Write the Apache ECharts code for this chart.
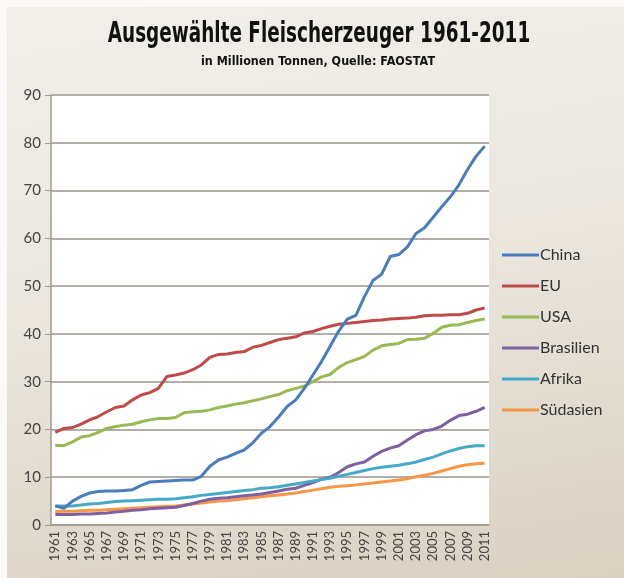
<!DOCTYPE html>
<html>
<head>
<meta charset="utf-8">
<script src="https://cdn.jsdelivr.net/npm/echarts@6/dist/echarts.min.js"></script>
<style>
  html, body { margin: 0; padding: 0; background: #fbfaf8; }
  #bg { position: absolute; left: 7px; top: 7px; width: 617px; height: 571px;
        background: linear-gradient(170deg, #f1efea 0%, #ebe7df 45%, #d9d0c1 100%); }
  #chart { position: absolute; left: 0; top: 0; width: 624px; height: 578px; }
</style>
</head>
<body>
<div id="bg"></div>
<div id="chart"></div>
<script>
// years 1961..2011
const years = [];
for (let y = 1961; y <= 2011; y++) years.push(String(y));

const china = [4.0, 3.5, 5.0, 6.0, 6.7, 7.0, 7.1, 7.1, 7.2, 7.4,
  8.3, 9.0, 9.1, 9.2, 9.3, 9.4, 9.4, 10.2, 12.3, 13.6,
  14.2, 15.0, 15.7, 17.2, 19.2, 20.6, 22.6, 24.8, 26.2, 28.6,
  31.4, 34.2, 37.4, 40.6, 43.1, 43.9, 47.8, 51.2, 52.5, 56.2,
  56.6, 58.2, 61.0, 62.2, 64.4, 66.6, 68.7, 71.2, 74.4, 77.2,
  79.3];
const eu = [19.4, 20.2, 20.4, 21.1, 22.0, 22.7, 23.7, 24.6, 24.9, 26.2,
  27.2, 27.7, 28.6, 31.1, 31.4, 31.8, 32.5, 33.5, 35.1, 35.7,
  35.8, 36.1, 36.3, 37.2, 37.6, 38.2, 38.8, 39.1, 39.4, 40.2,
  40.5, 41.1, 41.6, 42.0, 42.2, 42.4, 42.6, 42.8, 42.9, 43.1,
  43.2, 43.3, 43.5, 43.8, 43.9, 43.9, 44.0, 44.0, 44.3, 45.0,
  45.4];
const usa = [16.7, 16.6, 17.4, 18.4, 18.7, 19.4, 20.2, 20.6, 20.9, 21.1,
  21.6, 22.0, 22.3, 22.3, 22.5, 23.5, 23.7, 23.8, 24.1, 24.6,
  24.9, 25.3, 25.6, 26.0, 26.4, 26.9, 27.3, 28.1, 28.6, 29.1,
  30.0, 31.0, 31.5, 33.0, 34.0, 34.6, 35.3, 36.6, 37.5, 37.8,
  38.0, 38.8, 38.9, 39.1, 40.1, 41.4, 41.8, 41.9, 42.4, 42.8,
  43.1];
const brasilien = [2.2, 2.2, 2.2, 2.3, 2.3, 2.4, 2.5, 2.7, 2.9, 3.1,
  3.2, 3.4, 3.5, 3.6, 3.7, 4.1, 4.5, 5.0, 5.4, 5.6,
  5.7, 5.9, 6.1, 6.3, 6.5, 6.8, 7.1, 7.5, 7.7, 8.3,
  8.9, 9.6, 10.0, 11.0, 12.2, 12.8, 13.2, 14.4, 15.4, 16.1,
  16.6, 17.8, 18.9, 19.7, 20.0, 20.7, 21.9, 22.9, 23.2, 23.8,
  24.6];
const afrika = [4.0, 4.0, 4.0, 4.2, 4.4, 4.5, 4.7, 4.9, 5.0, 5.1,
  5.2, 5.3, 5.4, 5.4, 5.5, 5.7, 5.9, 6.2, 6.4, 6.6,
  6.8, 7.0, 7.2, 7.4, 7.7, 7.8, 8.0, 8.3, 8.6, 8.9,
  9.2, 9.5, 9.8, 10.2, 10.6, 11.0, 11.4, 11.8, 12.1, 12.3,
  12.5, 12.8, 13.2, 13.7, 14.2, 14.9, 15.5, 16.0, 16.4, 16.6,
  16.6];
const suedasien = [2.8, 2.9, 2.9, 3.0, 3.1, 3.1, 3.2, 3.3, 3.4, 3.5,
  3.6, 3.7, 3.8, 3.9, 4.0, 4.2, 4.4, 4.6, 4.8, 5.0,
  5.1, 5.3, 5.5, 5.7, 5.9, 6.1, 6.3, 6.5, 6.7, 7.0,
  7.3, 7.6, 7.9, 8.1, 8.2, 8.4, 8.6, 8.8, 9.0, 9.2,
  9.4, 9.7, 10.1, 10.4, 10.8, 11.3, 11.8, 12.3, 12.6, 12.8,
  12.9];

const seriesDefs = [
  { name: "China", data: china, color: "#4a7ebb" },
  { name: "EU", data: eu, color: "#be4b48" },
  { name: "USA", data: usa, color: "#98b954" },
  { name: "Brasilien", data: brasilien, color: "#7d60a0" },
  { name: "Afrika", data: afrika, color: "#46aac5" },
  { name: "Südasien", data: suedasien, color: "#f79646" }
];
// draw order: low lines first so China/EU sit on top
const drawOrder = ["Südasien", "Brasilien", "Afrika", "USA", "EU", "China"];

// condensed heading: squeeze a bold sans horizontally
function squeezedText(text, cx, top, size, scaleX) {
  return {
    type: "group", x: cx, y: top, scaleX: scaleX,
    children: [{
      type: "text",
      style: { text: text, x: 0, y: 0, align: "center", verticalAlign: "top",
        fontFamily: "DejaVu Sans", fontWeight: "bold", fontSize: size, fill: "#111" }
    }]
  };
}

const chart = echarts.init(document.getElementById("chart"), null, { renderer: "canvas" });
chart.setOption({
  animation: false,
  backgroundColor: "transparent",
  graphic: [
    squeezedText("Ausgewählte Fleischerzeuger 1961-2011", 319, 20, 29, 0.635),
    squeezedText("in Millionen Tonnen, Quelle: FAOSTAT", 318, 55, 13, 0.86)
  ],
  legend: {
    orient: "vertical", left: 497, top: 242, itemGap: 15,
    icon: "rect", itemWidth: 37, itemHeight: 3,
    data: seriesDefs.map(s => s.name),
    textStyle: { fontFamily: "Lato", fontSize: 16, color: "#333", padding: [0, 0, 0, -4] }
  },
  grid: { left: 51, right: 135, top: 95, bottom: 53, show: true, backgroundColor: "#fff", borderWidth: 0 },
  xAxis: {
    type: "category", data: years, boundaryGap: true,
    axisLine: { lineStyle: { color: "#a09a92", width: 1.5 } },
    axisTick: { interval: 0, length: 4, lineStyle: { color: "#a09a92" } },
    axisLabel: { interval: 1, rotate: 90, fontFamily: "Lato", fontSize: 13, color: "#444", margin: 6 }
  },
  yAxis: {
    type: "value", min: 0, max: 90, interval: 10,
    axisLine: { show: true, lineStyle: { color: "#a09a92", width: 1.5 } },
    axisTick: { show: true, length: 6, lineStyle: { color: "#a09a92" } },
    axisLabel: { fontFamily: "Lato", fontSize: 15, color: "#444", margin: 10 },
    splitLine: { lineStyle: { color: "#b4aea8", width: 2 } }
  },
  series: drawOrder.map(n => {
    const s = seriesDefs.find(d => d.name === n);
    return {
      name: s.name, type: "line", data: s.data, symbol: "none",
      lineStyle: { color: s.color, width: 3 }, itemStyle: { color: s.color }
    };
  })
});
</script>
</body>
</html>
